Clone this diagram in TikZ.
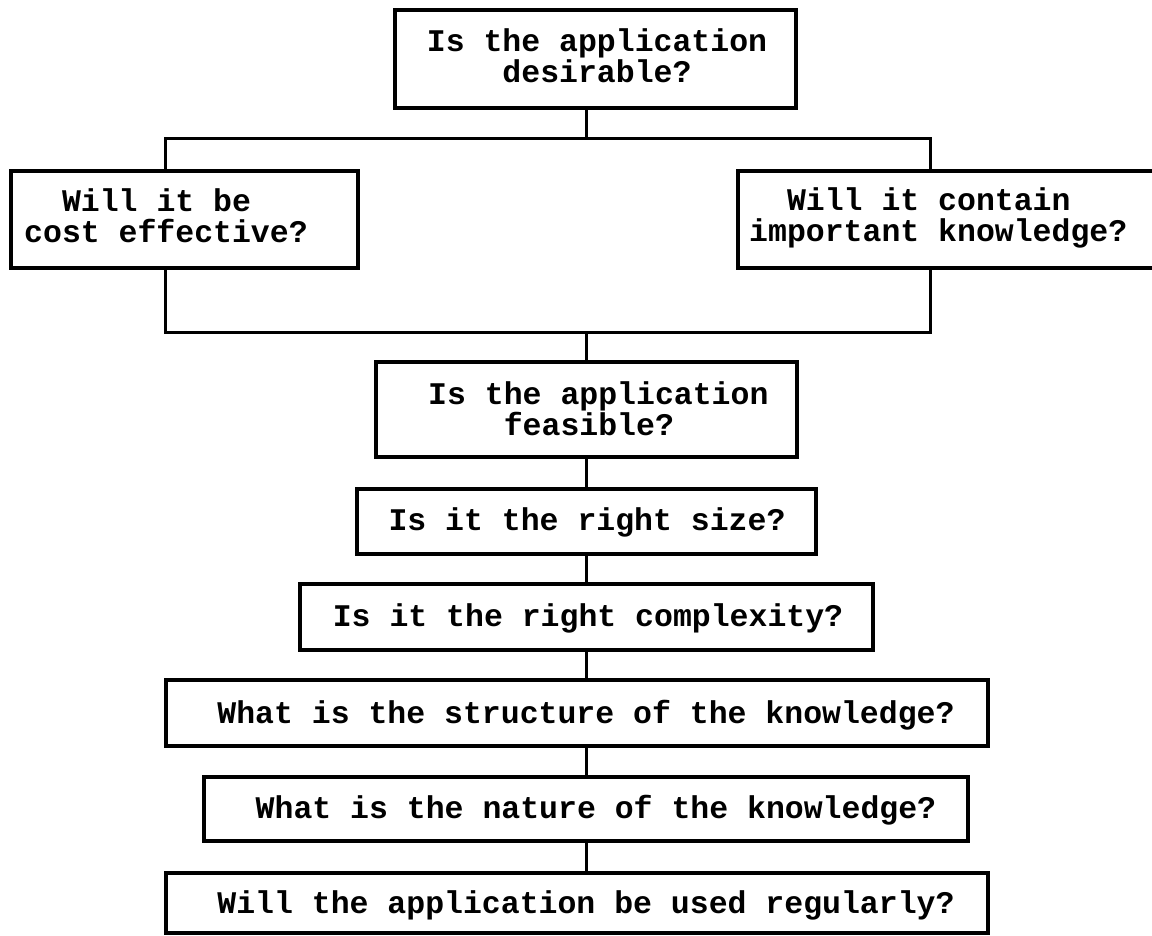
\documentclass[tikz,border=0pt]{standalone}
\usepackage{fontspec}
\setmonofont{Liberation Mono}
\begin{document}
\begin{tikzpicture}[x=1pt,y=-1pt,
  qbox/.style={draw=black,line width=3.6pt,rectangle,inner sep=0pt},
  qtext/.style={font=\ttfamily\bfseries\fontsize{31.5}{31}\selectfont,inner sep=0pt},
  link/.style={draw=black,line width=3pt}]
\useasboundingbox (0,0) rectangle (1152,936);
\fill[white] (0,0) rectangle (1152,936);
\coordinate (sp) at (586,0);
% boxes
\node[qbox,minimum width=401pt,minimum height=98pt] (b1) at (595.5,59) {};
\node[qbox,minimum width=347pt,minimum height=97pt] (b2) at (184.5,219.5) {};
\node[qbox,minimum width=432pt,minimum height=97pt] (b3) at (954,219.5) {};
\node[qbox,minimum width=421pt,minimum height=95pt] (b4) at (586.5,409.5) {};
\node[qbox,minimum width=459pt,minimum height=65pt] (b5) at (586.5,521.5) {};
\node[qbox,minimum width=573pt,minimum height=66pt] (b6) at (586.5,617) {};
\node[qbox,minimum width=822pt,minimum height=66pt] (b7) at (577,713) {};
\node[qbox,minimum width=764pt,minimum height=64pt] (b8) at (586,809) {};
\node[qbox,minimum width=822pt,minimum height=60pt] (b9) at (577,903) {};
% texts (base anchor = baseline of the last line)
\node[qtext,align=center,anchor=base] (t1) at (597,83) {Is the application\\desirable?};
\node[qtext,align=left,anchor=base west] (t2) at (24,243) {\phantom{Wi}Will it be\\cost effective?};
\node[qtext,align=left,anchor=base west] (t3) at (749,242) {\phantom{Wi}Will it contain\\important knowledge?};
\node[qtext,align=left,anchor=base west] (t4) at (428,435) {Is the application\\\phantom{Is t}feasible?};
\node[qtext,anchor=base] (t5) at (587,530) {Is it the right size?};
\node[qtext,anchor=base] (t6) at (588,626) {Is it the right complexity?};
\node[qtext,anchor=base] (t7) at (586,723) {What is the structure of the knowledge?};
\node[qtext,anchor=base] (t8) at (596,818) {What is the nature of the knowledge?};
\node[qtext,anchor=base] (t9) at (586,913) {Will the application be used regularly?};
% junctions
\coordinate (j1) at (586,139);
\coordinate (jl) at (165,139);
\coordinate (jr) at (930,139);
\coordinate (jl2) at (165,332);
\coordinate (jr2) at (930,332);
\coordinate (j2) at (586,332);
% connectors
\draw[link] (b1.south -| sp) -- (j1);
\draw[link] (jl |- b2.north) -- (jl) -- (jr) -- (jr |- b3.north);
\draw[link] (b2.south -| jl2) -- (jl2) -- (jr2) -- (b3.south -| jr2);
\draw[link] (j2) -- (b4.north -| sp);
\draw[link] (b4.south -| sp) -- (b5.north -| sp);
\draw[link] (b5.south -| sp) -- (b6.north -| sp);
\draw[link] (b6.south -| sp) -- (b7.north -| sp);
\draw[link] (b7.south -| sp) -- (b8.north -| sp);
\draw[link] (b8.south -| sp) -- (b9.north -| sp);
\end{tikzpicture}
\end{document}
